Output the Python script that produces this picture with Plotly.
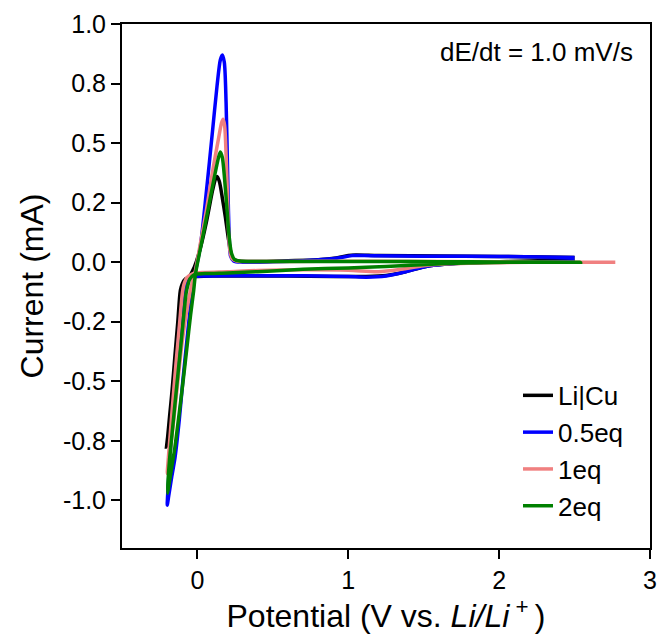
import plotly.graph_objects as go

# ---- data (potential V vs Li/Li+, current mA) ----
series_names = ["Li|Cu", "0.5eq", "1eq", "2eq"]
series_colors = ["#000000", "#0000ff", "#f08080", "#008000"]

V_licu = [2.50, 2.20, 1.90, 1.65, 1.50, 1.38, 1.25, 1.10, 0.90, 0.60, 0.30, 0.10, 0.00, -0.05, -0.08, -0.10,
          -0.113, -0.13, -0.15, -0.168, -0.185, -0.20, -0.205,
          -0.195, -0.17, -0.14, -0.11, -0.08, -0.05, -0.02, 0.02, 0.06, 0.10, 0.12, 0.13, 0.145, 0.165, 0.185,
          0.205, 0.22, 0.235, 0.27, 0.40, 0.60, 0.80, 0.92, 1.00, 1.05, 1.20, 1.60, 2.00, 2.50]
I_licu = [0.010, 0.005, 0.000, -0.008, -0.020, -0.040, -0.056, -0.060, -0.060, -0.058, -0.058, -0.058, -0.060, -0.063, -0.070, -0.090,
          -0.118, -0.25, -0.40, -0.538, -0.65, -0.75, -0.776,
          -0.72, -0.58, -0.40, -0.25, -0.13, -0.06, -0.02, 0.06, 0.17, 0.30, 0.35, 0.36, 0.34, 0.27, 0.19,
          0.10, 0.045, 0.015, 0.005, 0.003, 0.006, 0.010, 0.018, 0.028, 0.030, 0.028, 0.026, 0.024, 0.020]

V_05eq = [2.50, 2.20, 1.90, 1.65, 1.50, 1.38, 1.25, 1.12, 1.00, 0.80, 0.60, 0.40, 0.20, 0.05, -0.03, -0.07, -0.09,
          -0.11, -0.13, -0.15, -0.17, -0.19, -0.20,
          -0.19, -0.17, -0.148, -0.12, -0.097, -0.07, -0.045, -0.028, -0.01, 0.02, 0.06, 0.10, 0.13, 0.152, 0.165,
          0.178, 0.19, 0.20, 0.21, 0.22, 0.24, 0.30, 0.50, 0.70, 0.85, 0.95, 1.03, 1.15, 1.50, 2.00, 2.50]
I_05eq = [0.005, 0.002, 0.000, -0.008, -0.020, -0.040, -0.058, -0.063, -0.060, -0.058, -0.057, -0.057, -0.057, -0.058, -0.062, -0.080, -0.12,
          -0.22, -0.36, -0.52, -0.70, -0.90, -1.02,
          -0.98, -0.90, -0.818, -0.66, -0.50, -0.33, -0.18, -0.10, -0.03, 0.07, 0.30, 0.55, 0.74, 0.85, 0.87,
          0.84, 0.67, 0.38, 0.12, 0.025, 0.005, 0.000, 0.002, 0.006, 0.012, 0.020, 0.028, 0.027, 0.025, 0.024, 0.020]

V_1eq = [2.77, 2.40, 2.00, 1.70, 1.50, 1.35, 1.20, 1.00, 0.70, 0.40, 0.20, 0.05, -0.03, -0.07, -0.09, -0.10,
         -0.12, -0.14, -0.157, -0.18, -0.20,
         -0.19, -0.16, -0.13, -0.10, -0.07, -0.04, -0.015, 0.02, 0.06, 0.10, 0.14, 0.16, 0.17, 0.18, 0.19,
         0.198, 0.205, 0.215, 0.23, 0.26, 0.40, 0.80, 1.20, 2.00, 2.50]
I_1eq = [0.000, 0.000, -0.002, -0.006, -0.015, -0.030, -0.040, -0.034, -0.032, -0.035, -0.040, -0.043, -0.048, -0.065, -0.095, -0.13,
         -0.27, -0.41, -0.538, -0.72, -0.887,
         -0.84, -0.68, -0.50, -0.33, -0.20, -0.10, -0.04, 0.08, 0.22, 0.38, 0.52, 0.585, 0.60, 0.575, 0.45,
         0.30, 0.15, 0.05, 0.015, 0.005, 0.003, 0.004, 0.004, 0.002, 0.000]

V_2eq = [2.54, 2.20, 1.90, 1.65, 1.45, 1.25, 1.00, 0.70, 0.40, 0.20, 0.05, -0.02, -0.05, -0.065, -0.075, -0.09,
         -0.11, -0.14, -0.165, -0.185, -0.195, -0.198,
         -0.19, -0.17, -0.15, -0.12, -0.095, -0.07, -0.045, -0.025, -0.013, 0.03, 0.07, 0.11, 0.14, 0.152, 0.165,
         0.18, 0.195, 0.21, 0.225, 0.245, 0.28, 0.40, 0.80, 1.20, 1.60, 2.00, 2.54]
I_2eq = [0.000, 0.000, -0.002, -0.006, -0.012, -0.018, -0.024, -0.030, -0.040, -0.045, -0.048, -0.052, -0.070, -0.10, -0.13, -0.22,
         -0.35, -0.538, -0.70, -0.83, -0.92, -0.97,
         -0.94, -0.86, -0.78, -0.63, -0.50, -0.36, -0.22, -0.12, -0.05, 0.09, 0.22, 0.35, 0.44, 0.463, 0.44,
         0.35, 0.23, 0.11, 0.04, 0.012, 0.005, 0.003, 0.003, 0.003, 0.002, 0.001, 0.000]

x_tickvals = [0, 1, 2, 3]
y_tickvals = [-1.0, -0.75, -0.5, -0.25, 0.0, 0.25, 0.5, 0.75, 1.0]
y_ticktext = ["-1.0", "-0.8", "-0.5", "-0.2", "0.0", "0.2", "0.5", "0.8", "1.0"]

FONT = "Liberation Sans, Arial, sans-serif"

fig = go.Figure()
for name, color, xs, ys in zip(series_names, series_colors,
                               [V_licu, V_05eq, V_1eq, V_2eq],
                               [I_licu, I_05eq, I_1eq, I_2eq]):
    fig.add_trace(go.Scatter(x=xs, y=ys, mode="lines", name=name, legendgroup=name,
                             line=dict(color=color, width=3.5, shape="spline", smoothing=0.8)))

axis_common = dict(showline=True, linecolor="black", linewidth=2, mirror=True,
                   ticks="outside", ticklen=9, tickwidth=2, tickcolor="black",
                   showgrid=False, zeroline=False, automargin=False,
                   tickfont=dict(family=FONT, size=25, color="black"))

fig.update_layout(
    width=660, height=636,
    margin=dict(l=122, r=10, t=24, b=88),
    paper_bgcolor="white", plot_bgcolor="white",
    xaxis=dict(range=[-0.5, 3.0], tickvals=x_tickvals,
               title=dict(text="Potential (V vs. <i>Li/Li</i><sup> + </sup>)",
                          font=dict(family=FONT, size=32, color="black"), standoff=8),
               **axis_common),
    yaxis=dict(range=[-1.2, 1.0], tickvals=y_tickvals, ticktext=y_ticktext,
               title=dict(text="Current (mA)", font=dict(family=FONT, size=32, color="black"), standoff=10),
               **axis_common),
    legend=dict(x=0.75, y=0.336, xanchor="left", yanchor="top", bgcolor="rgba(0,0,0,0)",
                font=dict(family=FONT, size=26, color="black"), tracegroupgap=0),
    showlegend=True,
)

fig.add_annotation(x=0.972, y=0.947, xref="paper", yref="paper", xanchor="right", yanchor="middle",
                   text="dE/dt = 1.0 mV/s", showarrow=False,
                   font=dict(family=FONT, size=26, color="black"))

fig.write_html("out.html", config={"displayModeBar": False},
               post_script="document.body.style.margin='0';")
